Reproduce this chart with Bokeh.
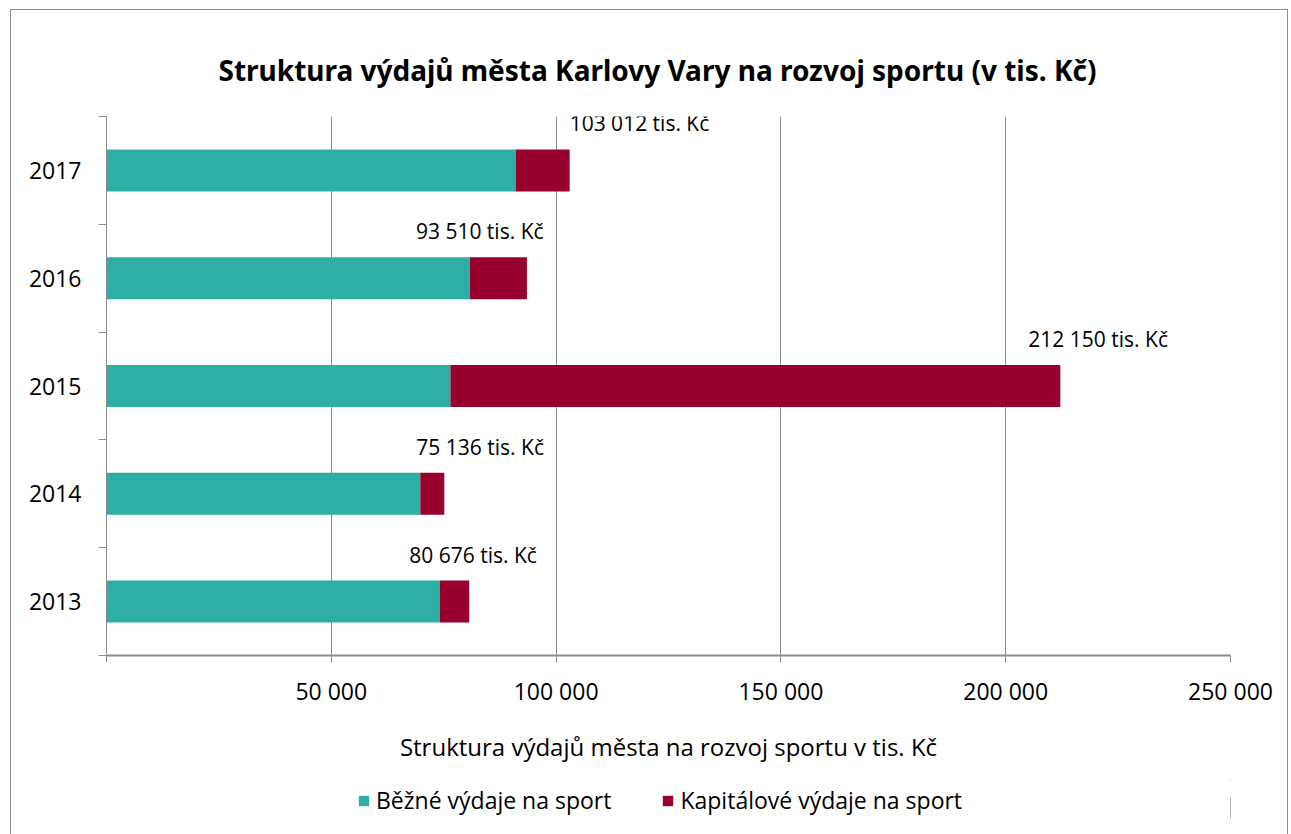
from bokeh.plotting import figure
from bokeh.layouts import column
from bokeh.models import (ColumnDataSource, Range1d, FixedTicker, Legend, LegendItem, Title)
from bokeh.embed import file_html
from bokeh.resources import INLINE
from bokeh.core.properties import value

# ---- data (tis. Kč) ----
years = ["2013", "2014", "2015", "2016", "2017"]
current = [74100, 69800, 76500, 80800, 91000]          # Běžné výdaje
totals = [80676, 75136, 212150, 93510, 103012]         # celkem
capital = [t - c for t, c in zip(totals, current)]     # Kapitálové výdaje
series_names = ["Běžné výdaje na sport", "Kapitálové výdaje na sport"]
x_ticks = [0, 50000, 100000, 150000, 200000, 250000]
x_tick_labels = ["", "50 000", "100 000", "150 000", "200 000", "250 000"]

# ---- styling ----
colors = ["#2DAFA5", "#98002E"]
label_dx = [-60, -28, -32, -111, 0]   # pixel nudges of total labels
FONT = "Open Sans"
GRAY = "#8C8C8C"

def fmt(v):
    return f"{v:,}".replace(",", " ") + " tis. Kč"

ypos = [i + 0.5 for i in range(len(years))]
src = ColumnDataSource(dict(y=ypos, cur=current, cap=capital, total=totals,
                            lab=[fmt(t) for t in totals], dx=label_dx))

p = figure(frame_width=1124, frame_height=539, x_range=Range1d(0, 250000), y_range=Range1d(0, 5),
           output_backend="svg", toolbar_location=None,
           min_border_left=95, min_border_right=57, min_border_top=106, min_border_bottom=125)
p.outline_line_color = None
p.background_fill_color = "white"
p.border_fill_color = "white"

p.title = Title(text="Struktura výdajů města Karlovy Vary na rozvoj sportu (v tis. Kč)",
                align="left", vertical_align="top", text_font="Noto Sans",
                text_font_style="bold", text_font_size="28px", text_color="#000000",
                standoff=51, offset=112)

renderers = p.hbar_stack(["cur", "cap"], y="y", height=0.39, color=colors,
                         line_color=None, source=src)

p.text(x="total", y="y", text="lab", source=src, x_offset="dx", y_offset=-47,
       text_align="left", text_baseline="middle", text_font=value(FONT),
       text_font_size="21px", text_color="#000000")

# x axis
xa = p.xaxis[0]
xa.ticker = FixedTicker(ticks=x_ticks, minor_ticks=[])
xa.major_label_overrides = {t: l for t, l in zip(x_ticks, x_tick_labels)}
xa.major_tick_out = 7
xa.major_tick_in = 0
xa.minor_tick_out = 0
xa.minor_tick_in = 0
xa.axis_line_color = GRAY
xa.axis_line_width = 2
xa.major_tick_line_color = GRAY
xa.major_label_text_font = FONT
xa.major_label_text_font_size = "23px"
xa.major_label_text_color = "#000000"
xa.major_label_standoff = 12
xa.axis_label = "Struktura výdajů města na rozvoj sportu v tis. Kč"
xa.axis_label_text_font = FONT
xa.axis_label_text_font_size = "24px"
xa.axis_label_text_font_style = "normal"
xa.axis_label_text_color = "#000000"
xa.axis_label_standoff = 20

# y axis: labels at category centres, ticks at category boundaries
ya = p.yaxis[0]
ya.ticker = FixedTicker(ticks=ypos, minor_ticks=list(range(len(years) + 1)))
ya.major_label_overrides = {y: lab for y, lab in zip(ypos, years)}
ya.major_tick_out = 0
ya.major_tick_in = 0
ya.minor_tick_out = 8
ya.minor_tick_in = 0
ya.minor_tick_line_color = GRAY
ya.axis_line_color = GRAY
ya.major_label_text_font = FONT
ya.major_label_text_font_size = "23px"
ya.major_label_text_color = "#000000"
ya.major_label_standoff = 17

p.xgrid.ticker = FixedTicker(ticks=x_ticks)
p.xgrid.grid_line_color = GRAY
p.xgrid.grid_line_width = 1
p.ygrid.visible = False

# ---- legend strip (separate figure below the chart; its ranges hide the bars) ----
p2 = figure(width=1276, height=54, x_range=Range1d(-2, -1), y_range=Range1d(0, 1),
            output_backend="svg", toolbar_location=None,
            x_axis_location=None, y_axis_location=None,
            min_border_left=0, min_border_right=0, min_border_top=0, min_border_bottom=0)
p2.outline_line_color = None
p2.grid.visible = False
p2.border_fill_color = "white"
leg_r = p2.hbar_stack(["cur", "cap"], y="y", height=0.39, color=colors,
                      line_color=None, source=src)
legend = Legend(items=[LegendItem(label=series_names[i], renderers=[leg_r[i]])
                       for i in range(2)],
                orientation="horizontal", location=(251, 18),
                glyph_width=13, glyph_height=13, label_standoff=6, spacing=50,
                label_text_font=FONT, label_text_font_size="23px", label_text_color="#000000",
                border_line_color=None, background_fill_alpha=0, margin=0, padding=0)
p2.add_layout(legend, "center")

layout = column(p, p2, spacing=0,
                styles={"border-left": f"1px solid {GRAY}", "border-top": f"1px solid {GRAY}",
                        "border-right": f"1px solid {GRAY}", "margin-left": "10px",
                        "margin-top": "9px", "background-color": "white"})

open("out.html", "w").write(file_html(layout, INLINE))
